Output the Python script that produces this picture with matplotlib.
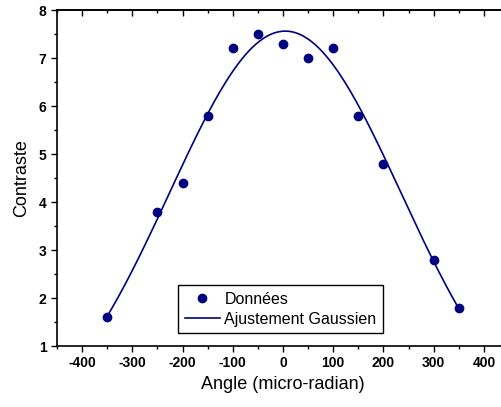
import numpy as np
import matplotlib
matplotlib.use('Agg')
import matplotlib.pyplot as plt
from matplotlib.ticker import MultipleLocator

plt.rcParams['font.family'] = ['Liberation Sans', 'DejaVu Sans']
plt.rcParams['axes.unicode_minus'] = False

# données mesurées
angle = [-350, -250, -200, -150, -100, -50, 0, 50, 100, 150, 200, 300, 350]
contraste = [1.6, 3.8, 4.4, 5.8, 7.2, 7.5, 7.3, 7.0, 7.2, 5.8, 4.8, 2.8, 1.8]

# paramètres de l'ajustement gaussien
y0 = -1.0
amp = 8.56
xc = 4.5
w = 230.4

xfit = np.linspace(-350, 350, 400)
yfit = y0 + amp * np.exp(-(xfit - xc) ** 2 / (2 * w ** 2))

color = '#000080'

fig = plt.figure(figsize=(5.02, 4.07), dpi=100)
ax = fig.add_axes([57 / 502, 61 / 407, 452 / 502, 336 / 407])

ax.plot(angle, contraste, 'o', color=color, markersize=6, label='Données')
ax.plot(xfit, yfit, '-', color=color, linewidth=1.2, label='Ajustement Gaussien')

ax.set_xlim(-450, 450)
ax.set_ylim(1, 8)
ax.xaxis.set_major_locator(MultipleLocator(100))
ax.xaxis.set_minor_locator(MultipleLocator(50))
ax.yaxis.set_major_locator(MultipleLocator(1))
ax.yaxis.set_minor_locator(MultipleLocator(0.5))

for s in ax.spines.values():
    s.set_linewidth(1.2)

ax.tick_params(which='major', direction='out', length=4.5, width=1.0, labelsize=10, pad=3)
ax.tick_params(which='minor', direction='out', length=2.5, width=1.0)
for lab in ax.get_xticklabels() + ax.get_yticklabels():
    lab.set_fontweight('bold')

# axe du haut: graduations vers l'intérieur
top = ax.secondary_xaxis('top')
top.xaxis.set_major_locator(MultipleLocator(100))
top.xaxis.set_minor_locator(MultipleLocator(50))
top.tick_params(which='major', direction='in', length=4.5, width=1.0, labeltop=False)
top.tick_params(which='minor', direction='in', length=2.5, width=1.0)
top.spines['top'].set_linewidth(1.2)

ax.set_xlabel('Angle (micro-radian)', fontsize=13, labelpad=4)
ax.set_ylabel('Contraste', fontsize=13, labelpad=6)

leg = ax.legend(loc='lower left', bbox_to_anchor=(0.268, 0.039), borderaxespad=0,
                fontsize=11.5, fancybox=False, edgecolor='black', framealpha=1,
                handlelength=2.2, handletextpad=0.3, borderpad=0.4, labelspacing=0.3)
leg.get_frame().set_linewidth(1.0)

fig.savefig('out.png', dpi=100)
